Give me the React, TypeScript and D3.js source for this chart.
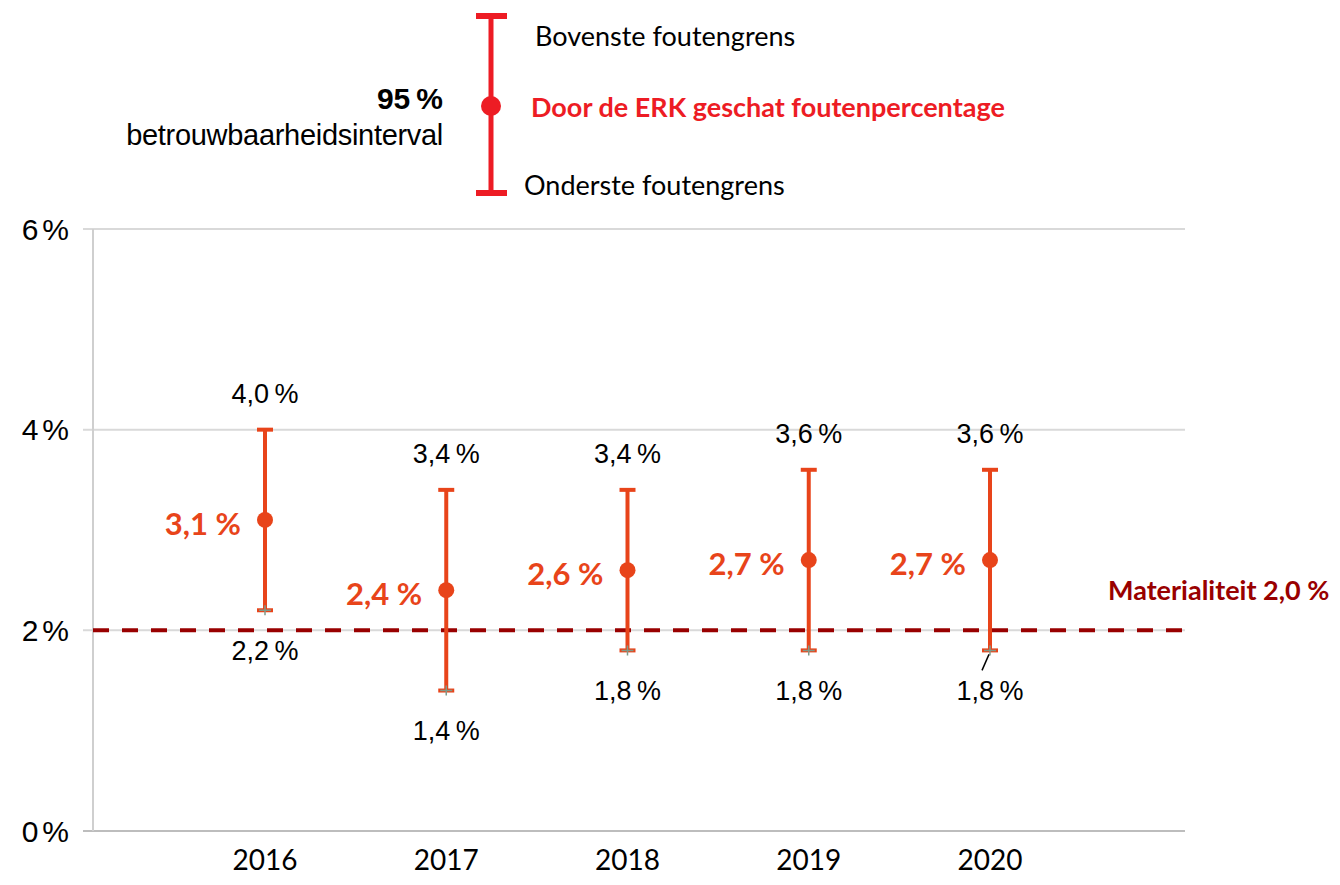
import React, {useEffect, useRef} from "react";
import * as d3 from "d3";

// chart data
const years = ["2016", "2017", "2018", "2019", "2020"];
const estimate = [3.1, 2.4, 2.6, 2.7, 2.7];
const upper = [4.0, 3.4, 3.4, 3.6, 3.6];
const lower = [2.2, 1.4, 1.8, 1.8, 1.8];
const yTicks = [0, 2, 4, 6];
const materiality = 2.0;

const fmt = (v: number) => v.toFixed(1).replace(".", ",") + "\u2009%";

const App = () => {
    const ref = useRef<SVGSVGElement>(null);

    useEffect(() => {
        const w = 1340;
        const h = 885;
        const svg = d3.select(ref.current)
            .attr("width", w)
            .attr("height", h);
        svg.selectAll("*").remove();

        const orange = "#E8441A";
        const dark = "#990000";
        const arial = "'Liberation Sans', Arial, sans-serif";
        const calibri = "Lato, 'Open Sans', sans-serif";

        // scales
        const x = d3.scalePoint<string>().domain(years).range([265, 990]);
        const y = d3.scaleLinear().domain([0, 6]).range([831, 229]);
        const left = 93, right = 1185;

        // grid + axis
        svg.append("g").selectAll("line")
            .data(yTicks)
            .join("line")
            .attr("x1", left - 10).attr("x2", right)
            .attr("y1", d => y(d)).attr("y2", d => y(d))
            .attr("stroke", d => d === 0 ? "#bdbdbd" : "#d9d9d9")
            .attr("stroke-width", 2);
        svg.append("line")
            .attr("x1", left).attr("x2", left)
            .attr("y1", y(6)).attr("y2", y(0))
            .attr("stroke", "#cfcfcf").attr("stroke-width", 2);

        svg.append("g").selectAll("text")
            .data(yTicks)
            .join("text")
            .attr("x", 68).attr("y", d => y(d))
            .attr("dy", "0.35em")
            .attr("text-anchor", "end")
            .attr("font-family", arial).attr("font-size", 30)
            .attr("letter-spacing", -1)
            .text(d => d + "\u2009%");

        svg.append("g").selectAll("text")
            .data(years)
            .join("text")
            .attr("x", d => x(d)!).attr("y", 870)
            .attr("text-anchor", "middle")
            .attr("font-family", calibri).attr("font-size", 28)
            .text(d => d);

        // materiality line
        svg.append("line")
            .attr("x1", left).attr("x2", right)
            .attr("y1", y(materiality)).attr("y2", y(materiality))
            .attr("stroke", dark).attr("stroke-width", 4)
            .attr("stroke-dasharray", "16 13");
        svg.append("text")
            .attr("x", 1108).attr("y", y(materiality) - 40)
            .attr("dy", "0.35em")
            .attr("font-family", calibri).attr("font-weight", "bold")
            .attr("font-size", 27).attr("fill", dark)
            .text("Materialiteit 2,0 %");

        // error bars
        const g = svg.append("g");
        years.forEach((yr, i) => {
            const cx = x(yr)!;
            g.append("line")
                .attr("x1", cx).attr("x2", cx)
                .attr("y1", y(upper[i])).attr("y2", y(lower[i]))
                .attr("stroke", orange).attr("stroke-width", 4);
            [upper[i], lower[i]].forEach(v => {
                g.append("line")
                    .attr("x1", cx - 8).attr("x2", cx + 8)
                    .attr("y1", y(v)).attr("y2", y(v))
                    .attr("stroke", orange).attr("stroke-width", 4);
            });
            // small grey marker at the lower bound
            g.append("path")
                .attr("d", `M${cx - 6},${y(lower[i])}H${cx + 6}M${cx},${y(lower[i]) - 5}V${y(lower[i]) + 5}`)
                .attr("stroke", "#7f9a8a").attr("stroke-width", 1.5);
            g.append("circle")
                .attr("cx", cx).attr("cy", y(estimate[i]))
                .attr("r", 8).attr("fill", orange);

            g.append("text")
                .attr("x", cx).attr("y", y(upper[i]) - 36)
                .attr("dy", "0.35em").attr("text-anchor", "middle")
                .attr("font-family", arial).attr("font-size", 27)
                .text(fmt(upper[i]));
            g.append("text")
                .attr("x", cx).attr("y", y(lower[i]) + 40)
                .attr("dy", "0.35em").attr("text-anchor", "middle")
                .attr("font-family", arial).attr("font-size", 27)
                .text(fmt(lower[i]));
            g.append("text")
                .attr("x", cx - 24).attr("y", y(estimate[i]) + 4)
                .attr("dy", "0.35em").attr("text-anchor", "end")
                .attr("font-family", calibri).attr("font-weight", "bold")
                .attr("font-size", 31).attr("fill", orange)
                .text(fmt(estimate[i]).replace("\u2009", " "));
        });
        // leader line for the last lower label
        const lx = x(years[4])!;
        g.append("line")
            .attr("x1", lx - 1).attr("x2", lx - 8)
            .attr("y1", y(lower[4]) + 4).attr("y2", y(lower[4]) + 20)
            .attr("stroke", "#000").attr("stroke-width", 1.5);

        // legend
        const red = "#ED1C24";
        const lg = svg.append("g");
        lg.append("line").attr("x1", 491).attr("x2", 491).attr("y1", 16).attr("y2", 193)
            .attr("stroke", red).attr("stroke-width", 5);
        [16, 193].forEach(yy => lg.append("line")
            .attr("x1", 476).attr("x2", 507).attr("y1", yy).attr("y2", yy)
            .attr("stroke", red).attr("stroke-width", 6));
        lg.append("circle").attr("cx", 491).attr("cy", 106).attr("r", 10).attr("fill", red);
        lg.append("text").attr("x", 535).attr("y", 37).attr("dy", "0.35em")
            .attr("font-family", calibri).attr("font-size", 27).text("Bovenste foutengrens");
        lg.append("text").attr("x", 531).attr("y", 108).attr("dy", "0.35em")
            .attr("font-family", calibri).attr("font-size", 27).attr("font-weight", "bold")
            .attr("fill", red).text("Door de ERK geschat foutenpercentage");
        lg.append("text").attr("x", 524).attr("y", 186).attr("dy", "0.35em")
            .attr("font-family", calibri).attr("font-size", 27).text("Onderste foutengrens");
        lg.append("text").attr("x", 443).attr("y", 98).attr("dy", "0.35em")
            .attr("text-anchor", "end").attr("font-family", arial).attr("font-weight", "bold")
            .attr("font-size", 30).text("95\u2009%");
        lg.append("text").attr("x", 443).attr("y", 135).attr("dy", "0.35em")
            .attr("text-anchor", "end").attr("font-family", arial)
            .attr("font-size", 29).attr("letter-spacing", -0.3).text("betrouwbaarheidsinterval");
    }, []);

    return (<div style={{position: "absolute", left: 0, top: 0}}>
        <svg ref={ref}></svg>
    </div>);
};

export default App;
